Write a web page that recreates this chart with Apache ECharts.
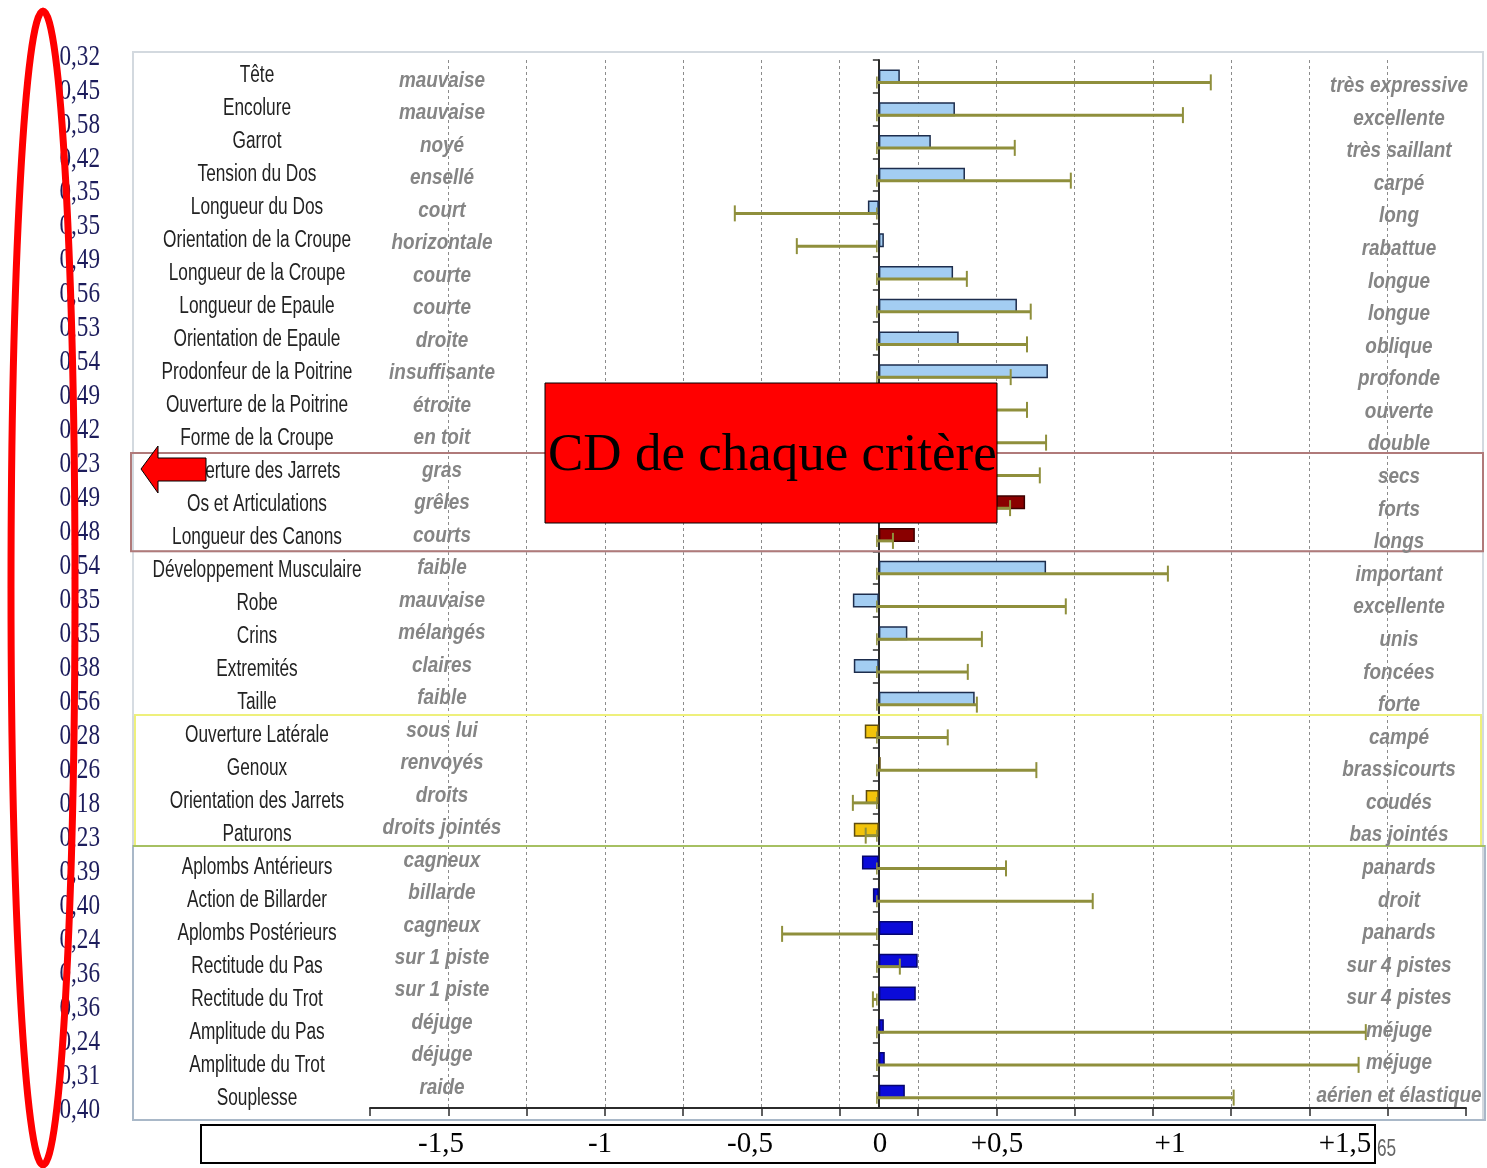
<!DOCTYPE html>
<html><head><meta charset="utf-8">
<script src="https://cdn.jsdelivr.net/npm/echarts@6/dist/echarts.min.js"></script>
<style>html,body{margin:0;padding:0;background:#fff}#c{width:1487px;height:1168px}</style>
</head><body><div id="c"></div>
<script>
// ---------- DATA ----------
const criteria = ['Tête','Encolure','Garrot','Tension du Dos','Longueur du Dos','Orientation de la Croupe','Longueur de la Croupe','Longueur de Epaule','Orientation de Epaule','Prodonfeur de la Poitrine','Ouverture de la Poitrine','Forme de la Croupe','Ouverture des Jarrets','Os et Articulations','Longueur des Canons','Développement Musculaire','Robe','Crins','Extremités','Taille','Ouverture Latérale','Genoux','Orientation des Jarrets','Paturons','Aplombs Antérieurs','Action de Billarder','Aplombs Postérieurs','Rectitude du Pas','Rectitude du Trot','Amplitude du Pas','Amplitude du Trot','Souplesse'];
const leftLabels = ['mauvaise','mauvaise','noyé','ensellé','court','horizontale','courte','courte','droite','insuffisante','étroite','en toit','gras','grêles','courts','faible','mauvaise','mélangés','claires','faible','sous lui','renvoyés','droits','droits jointés','cagneux','billarde','cagneux','sur 1 piste','sur 1 piste','déjuge','déjuge','raide'];
const rightLabels = ['très expressive','excellente','très saillant','carpé','long','rabattue','longue','longue','oblique','profonde','ouverte','double','secs','forts','longs','important','excellente','unis','foncées','forte','campé','brassicourts','coudés','bas jointés','panards','droit','panards','sur 4 pistes','sur 4 pistes','méjuge','méjuge','aérien et élastique'];
const cdValues = ['0,32','0,45','0,58','0,42','0,35','0,35','0,49','0,56','0,53','0,54','0,49','0,42','0,23','0,49','0,48','0,54','0,35','0,35','0,38','0,56','0,28','0,26','0,18','0,23','0,39','0,40','0,24','0,36','0,36','0,24','0,31','0,40'];
const barValues = [0.067,0.243,0.166,0.275,-0.035,0.016,0.237,0.441,0.255,0.540,0.30,0.32,0.28,0.467,0.115,0.534,-0.083,0.091,-0.080,0.306,-0.045,0.006,-0.042,-0.080,-0.054,-0.019,0.109,0.124,0.118,0.016,0.019,0.083];
const errorEnds = [1.060,0.971,0.434,0.613,-0.460,-0.262,0.281,0.485,0.473,0.421,0.473,0.534,0.514,0.419,0.045,0.923,0.597,0.329,0.284,0.313,0.220,0.503,-0.083,-0.042,0.406,0.683,-0.309,0.067,-0.019,1.555,1.532,1.133];
const groups = ['A','A','A','A','A','A','A','A','A','A','A','A','B','B','B','C','C','C','C','C','D','D','D','D','E','E','E','E','E','E','E','E'];
const axisTickLabels = ['-1,5','-1','-0,5','0','+0,5','+1','+1,5'];
const annotationText = 'CD de chaque critère';

// ---------- STYLE / LAYOUT ----------
const SANS = "'Liberation Sans',Arial,sans-serif";
const SERIF = "'Liberation Serif','Times New Roman','DejaVu Serif',serif";
const groupStyle = {
  A:{color:'#a3cdf2', borderColor:'#1d2d4d'},
  B:{color:'#8a0000', borderColor:'#3d0000'},
  C:{color:'#a3cdf2', borderColor:'#1d2d4d'},
  D:{color:'#f2c40c', borderColor:'#5e4c0e'},
  E:{color:'#0b0bd9', borderColor:'#06066e'}
};
const tickLabelX = [441, 600, 750, 880, 997, 1170, 1345];

const chart = echarts.init(document.getElementById('c'), null, {renderer:'canvas'});
function hiddenX(gi){ return {type:'value', gridIndex:gi, min:0, max:1, show:false}; }
function labelY(gi, data){
  return {type:'category', gridIndex:gi, data:data, inverse:true,
    axisLine:{show:false}, axisTick:{show:false}, splitLine:{show:false}, axisLabel:{show:false}};
}

const option = {
  animation:false,
  backgroundColor:'#ffffff',
  grid:[
    {left:370, top:60, width:1096, height:1048},
    {left:100, top:40, width:1, height:1087},
    {left:257, top:59.5, width:1, height:1056},
    {left:442, top:64.7, width:1, height:1039.4},
    {left:1399, top:69.7, width:1, height:1042.6}
  ],
  xAxis:[
    {type:'value', gridIndex:0, min:-1.625, max:1.875, interval:0.25,
      axisLabel:{show:false},
      axisLine:{show:true, onZero:false, lineStyle:{color:'#2b2b2b', width:2}},
      axisTick:{show:true, length:8, lineStyle:{color:'#2b2b2b', width:1.5}},
      splitLine:{show:true, showMinLine:false, showMaxLine:false, lineStyle:{color:'#8c8c8c', type:[3,3], width:1}}},
    hiddenX(1), hiddenX(2), hiddenX(3), hiddenX(4)
  ],
  yAxis:[
    {type:'category', gridIndex:0, data:criteria, inverse:true,
      axisLine:{show:true, onZero:true, lineStyle:{color:'#2b2b2b', width:2}},
      axisTick:{show:true, length:6, lineStyle:{color:'#2b2b2b', width:1.5}},
      axisLabel:{show:false}, splitLine:{show:false}},
    labelY(1, cdValues),
    labelY(2, criteria),
    labelY(3, leftLabels),
    labelY(4, rightLabels)
  ],
  series:[
    {type:'bar', xAxisIndex:0, yAxisIndex:0, barWidth:14, z:3,
      data: barValues.map((v,i)=>({value:v, itemStyle:{color:groupStyle[groups[i]].color, borderColor:groupStyle[groups[i]].borderColor, borderWidth:1.5}}))},
    {type:'custom', xAxisIndex:0, yAxisIndex:0, z:4,
      encode:{x:0, y:1},
      data: errorEnds.map((e,i)=>[e, i]),
      renderItem:function(params, api){
        const s = api.coord([0, api.value(1)]);
        const e = api.coord([api.value(0), api.value(1)]);
        const y = s[1] + 6;
        const st = {stroke:'#8f8f3c', lineWidth:3};
        return {type:'group', children:[
          {type:'line', shape:{x1:s[0]-2, y1:y, x2:e[0], y2:y}, style:st},
          {type:'line', shape:{x1:e[0], y1:y-8, x2:e[0], y2:y+8}, style:{stroke:'#8f8f3c', lineWidth:2}},
          {type:'line', shape:{x1:s[0]-2, y1:y-6, x2:s[0]-2, y2:y+6}, style:{stroke:'#8f8f3c', lineWidth:1.5}}
        ]};
      }}
  ]
};
chart.setOption(option);

// ---------- LABEL COLUMNS (positioned by their category axes) ----------
const columns = [
  {axis:1, data:cdValues, font:'29px '+SERIF, fill:'#1d1d5c', align:'right', scaleX:0.8},
  {axis:2, data:criteria, font:'23px '+SANS, fill:'#222222', align:'center', scaleX:0.75},
  {axis:3, data:leftLabels, font:'italic bold 22px '+SANS, fill:'#858585', align:'center', scaleX:0.86},
  {axis:4, data:rightLabels, font:'italic bold 22px '+SANS, fill:'#858585', align:'center', scaleX:0.86}
];
const labelEls = [];
columns.forEach(col=>{
  const x = chart.convertToPixel({xAxisIndex:col.axis}, 0);
  col.data.forEach((t,i)=>{
    const y = chart.convertToPixel({yAxisIndex:col.axis}, i);
    labelEls.push({type:'text', z:5, x:x, y:y, scaleX:col.scaleX,
      style:{text:t, font:col.font, fill:col.fill, align:col.align, verticalAlign:'middle'}});
  });
});

// ---------- DECORATIONS ----------
const c0 = chart.convertToPixel({gridIndex:0}, [0, 0])[1];
const c1 = chart.convertToPixel({gridIndex:0}, [0, 1])[1];
const step = c1 - c0;
function edge(k){ return c0 + (k - 0.5) * step; }
function range(g){ return [groups.indexOf(g), groups.lastIndexOf(g) + 1]; }
const rB = range('B'), rC = range('C'), rD = range('D'), rE = range('E');

const frames = [
  {type:'rect', z:0, shape:{x:133, y:52, width:1350, height:1068}, style:{fill:null, stroke:'#d3d9df', lineWidth:2}},
  {type:'rect', z:1, shape:{x:133, y:edge(rC[0]), width:1350, height:edge(rC[1])-edge(rC[0])}, style:{fill:null, stroke:'#d6dce2', lineWidth:2}},
  {type:'rect', z:1, shape:{x:131, y:edge(rB[0]), width:1352, height:edge(rB[1])-edge(rB[0])}, style:{fill:null, stroke:'#b07a7a', lineWidth:2}},
  {type:'rect', z:1, shape:{x:135, y:edge(rD[0]), width:1346, height:edge(rD[1])-edge(rD[0])}, style:{fill:null, stroke:'#eef07c', lineWidth:2}},
  {type:'rect', z:1, shape:{x:133, y:edge(rE[0]), width:1352, height:1120-edge(rE[0])}, style:{fill:null, stroke:'#a9b8c8', lineWidth:2}},
  {type:'line', z:1, shape:{x1:133, y1:edge(rE[0]), x2:1485, y2:edge(rE[0])}, style:{stroke:'#a6c062', lineWidth:2}}
];
const annotations = [
  {type:'rect', z:100, shape:{x:545, y:383, width:452, height:140}, style:{fill:'#ff0000', stroke:'#000', lineWidth:1}},
  {type:'text', z:101, style:{x:548, y:456, text:annotationText, font:'53px '+SERIF, fill:'#000', align:'left', verticalAlign:'middle'}},
  {type:'polygon', z:100, shape:{points:[[141,469],[158,446],[158,458],[206,458],[206,481],[158,481],[158,493]]}, style:{fill:'#ff0000', stroke:'#000', lineWidth:1}},
  {type:'ellipse', z:100, shape:{cx:43, cy:588, rx:32, ry:577}, style:{fill:null, stroke:'#ff0000', lineWidth:7}},
  {type:'rect', z:100, shape:{x:201, y:1125, width:1174, height:38}, style:{fill:'#ffffff', stroke:'#000', lineWidth:2}},
  {type:'text', z:101, x:1377, y:1150, scaleX:0.75, style:{text:'65', font:'23px '+SANS, fill:'#666', align:'left', verticalAlign:'middle'}}
].concat(axisTickLabels.map((t,i)=>({type:'text', z:101, style:{x:tickLabelX[i], y:1144, text:t, font:'29px '+SERIF, fill:'#000', align:'center', verticalAlign:'middle'}})));

chart.setOption({graphic: frames.concat(labelEls, annotations)});
</script>
</body></html>
